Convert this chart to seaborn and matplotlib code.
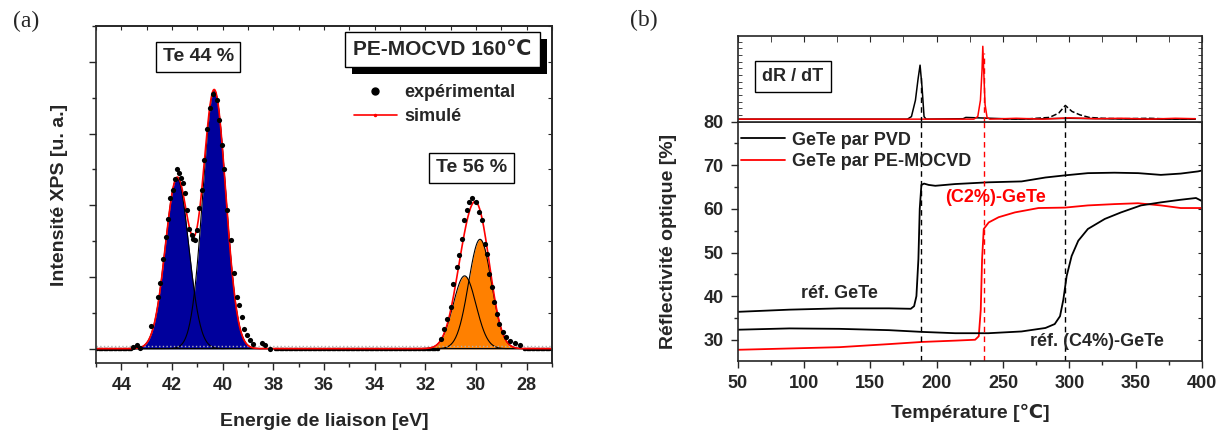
import numpy as np
import matplotlib
matplotlib.use("Agg")
import matplotlib.pyplot as plt
import matplotlib.patheffects as pe
import seaborn as sns
from matplotlib.lines import Line2D
from matplotlib.ticker import MultipleLocator, NullFormatter

# ---------------- données (a) : XPS Te 4d ----------------
# composantes du fit (centre eV, hauteur, largeur sigma)
peak_e = [41.80, 40.33, 30.45, 29.84]
peak_h = [4.75, 7.20, 2.03, 3.05]
peak_w = [0.46, 0.45, 0.45, 0.45]
peak_col = ["#00009c", "#00009c", "#ff8000", "#ff8000"]

exp_e = [43.55, 43.40, 43.25, 42.83, 42.56, 42.47, 42.37, 42.25, 42.14, 42.07, 41.97,
         41.88, 41.81, 41.72, 41.64, 41.55, 41.49, 41.42, 41.33, 41.22, 41.16,
         41.09, 41.03, 40.92, 40.82, 40.74, 40.63, 40.50, 40.37, 40.24, 40.13,
         40.04, 39.95, 39.84, 39.68, 39.55, 39.45, 39.34, 39.25, 39.14, 39.05,
         38.92, 38.79, 38.46, 38.33, 38.13,
         31.38, 31.25, 31.13, 31.00, 30.89, 30.76, 30.66, 30.54, 30.46, 30.37,
         30.26, 30.14, 30.01, 29.88, 29.77, 29.64, 29.58, 29.47, 29.38, 29.27,
         29.18, 29.08, 28.95, 28.83, 28.66, 28.46, 28.26]
exp_i = [0.05, 0.10, 0.02, 0.62, 1.44, 1.82, 2.49, 3.12, 3.62, 4.21, 4.42,
         4.72, 5.01, 4.91, 4.75, 4.61, 4.33, 3.86, 3.35, 3.17, 3.07,
         3.03, 3.30, 3.91, 4.42, 5.25, 6.14, 6.70, 7.10, 6.94, 6.38,
         5.68, 5.00, 3.88, 3.03, 2.10, 1.44, 1.21, 0.88, 0.56, 0.37,
         0.23, 0.14, 0.16, 0.09, 0.00,
         0.28, 0.56, 0.84, 1.16, 1.81, 2.28, 2.61, 3.05, 3.58, 3.86,
         4.10, 4.21, 4.10, 3.82, 3.58, 2.93, 2.65, 2.09, 1.72, 1.30,
         0.98, 0.70, 0.47, 0.33, 0.21, 0.16, 0.09]
# zones de ligne de base (début, fin) en eV
base_zones = [(45.0, 43.6), (38.0, 31.5), (28.1, 27.0)]

# ---------------- données (b) : réflectivité ----------------
pvd_t = [50, 89, 126.75, 164, 180.5, 183, 184.75, 186.25, 187.25, 188.5, 190.5,
         194, 199, 214, 239, 264, 282, 297, 314, 334, 352, 369, 384, 397, 400]
pvd_r = [36.4, 36.9, 37.2, 37.2, 37.1, 37.7, 40.0, 48.5, 60.0, 65.5, 65.8,
         65.5, 65.3, 65.7, 66.1, 66.3, 67.2, 67.7, 68.2, 68.3, 68.2, 67.8, 68.1, 68.6, 68.8]

c4_t = [50, 89, 126.75, 164, 189, 214, 239, 264, 282, 289, 293, 295.5, 298,
        301.75, 306.75, 314, 326.75, 339, 354, 369, 384, 395.5, 400]
c4_r = [32.3, 32.6, 32.5, 32.2, 31.8, 31.5, 31.5, 31.9, 32.7, 33.6, 35.4, 39.2, 44.6,
        49.2, 52.7, 55.4, 57.7, 59.2, 60.8, 61.5, 62.1, 62.5, 61.8]

c2_t = [50, 89, 126.75, 164, 189, 214, 229, 231.75, 233.25, 234.25, 235.5,
        239.25, 246.75, 259, 276.75, 296.75, 314, 334, 351.75, 369, 384, 400]
c2_r = [27.7, 28.0, 28.3, 29.0, 29.5, 29.8, 30.0, 30.8, 36.9, 48.5, 55.4,
        56.9, 58.1, 59.2, 60.2, 60.3, 60.8, 61.1, 61.3, 60.8, 60.2, 60.2]

# dR/dT (unités arbitraires)
d_pvd_t = [50, 120, 178, 181, 184, 186, 187.5, 189, 190.5, 192, 220, 222, 260, 300, 350, 395]
d_pvd_v = [0.03, 0.03, 0.03, 0.06, 0.25, 0.50, 0.66, 0.40, 0.06, 0.03, 0.035, 0.05, 0.03, 0.04, 0.03, 0.03]
d_c2_t = [50, 150, 228, 231, 233, 234.2, 234.8, 235.6, 236.5, 238, 240, 260, 280,
          300, 320, 340, 360, 380, 395]
d_c2_v = [0.03, 0.03, 0.03, 0.06, 0.25, 0.60, 0.88, 0.55, 0.20, 0.05, 0.03, 0.04, 0.03,
          0.045, 0.035, 0.04, 0.03, 0.04, 0.035]
d_c4_t = [250, 270, 285, 292, 297, 302, 308, 315, 325, 340, 360, 380, 395]
d_c4_v = [0.03, 0.035, 0.05, 0.10, 0.19, 0.12, 0.08, 0.05, 0.04, 0.035, 0.04, 0.03, 0.035]
trans_t = [188, 235.5, 297]
trans_top = [0.55, 0.80, 0.19]
trans_col = ["black", "red", "black"]

# ---------------- style ----------------
sns.set_style("ticks")
plt.rcParams["font.family"] = ["Liberation Sans", "DejaVu Sans"]
plt.rcParams["font.weight"] = "bold"
plt.rcParams["axes.labelweight"] = "bold"
plt.rcParams["axes.linewidth"] = 1.2

fig = plt.figure(figsize=(12.28, 4.33), dpi=100)

# ================= (a) =================
ax_a = fig.add_axes([0.0782, 0.1617, 0.3713, 0.7783])
e = np.linspace(27, 45, 901)
total = np.zeros_like(e)
for c, h, w, col in zip(peak_e, peak_h, peak_w, peak_col):
    g = h * np.exp(-(e - c) ** 2 / (2 * w ** 2))
    total += g
    ax_a.fill_between(e, 0, g, color=col, lw=0)
for c, h, w in zip(peak_e, peak_h, peak_w):
    g = h * np.exp(-(e - c) ** 2 / (2 * w ** 2))
    sns.lineplot(x=e, y=g, color="black", lw=0.8, ax=ax_a)

ax_a.axhline(0.06, color="#b0b0b0", lw=1, ls=":")
base_e = np.concatenate([np.arange(b, a, 0.05) for a, b in base_zones])
sns.scatterplot(x=base_e, y=np.zeros_like(base_e), color="black", s=6,
                linewidth=0, ax=ax_a)
sns.lineplot(x=e, y=total, color="red", lw=1.2, ax=ax_a)
sns.scatterplot(x=exp_e, y=exp_i, color="black", s=14, linewidth=0, ax=ax_a, zorder=5)

ax_a.set_xlim(45, 27)
ax_a.set_ylim(-0.4, 9.0)
ax_a.xaxis.set_major_locator(MultipleLocator(2))
ax_a.xaxis.set_minor_locator(MultipleLocator(1))
ax_a.yaxis.set_major_locator(MultipleLocator(2))
ax_a.yaxis.set_minor_locator(MultipleLocator(1))
ax_a.yaxis.set_major_formatter(NullFormatter())
ax_a.tick_params(which="major", direction="out", length=5, width=1, labelsize=13, pad=5)
ax_a.tick_params(which="minor", direction="out", length=3, width=1)
top_a = ax_a.secondary_xaxis("top")
top_a.xaxis.set_major_locator(MultipleLocator(1))
top_a.tick_params(direction="in", labeltop=False, length=3)
right_a = ax_a.secondary_yaxis("right")
right_a.yaxis.set_major_locator(MultipleLocator(1))
right_a.tick_params(direction="in", labelright=False, length=3)
ax_a.set_xlabel("Energie de liaison [eV]", fontsize=14, labelpad=14)
ax_a.set_ylabel("Intensité XPS [u. a.]", fontsize=14, labelpad=10)

box = dict(boxstyle="square,pad=0.35", fc="white", ec="black", lw=1)
ax_a.text(40.97, 8.14, "Te 44 %", fontsize=14, ha="center", va="center", bbox=box)
ax_a.text(30.17, 5.04, "Te 56 %", fontsize=14, ha="center", va="center", bbox=box)
title_box = ax_a.text(31.32, 8.34, "PE-MOCVD 160℃", fontsize=15, ha="center", va="center",
                      bbox=dict(boxstyle="square,pad=0.4", fc="white", ec="black", lw=1))
title_box.get_bbox_patch().set_path_effects(
    [pe.SimplePatchShadow(offset=(5, -5), shadow_rgbFace="black", alpha=1), pe.Normal()])

handles_a = [Line2D([], [], color="black", marker="o", ls="none", markersize=5),
             Line2D([], [], color="red", marker=".", markersize=3, lw=1.2)]
ax_a.legend(handles_a, ["expérimental", "simulé"], loc="upper left",
            bbox_to_anchor=(0.565, 0.828), frameon=False, fontsize=13,
            handlelength=2.4, handletextpad=0.4, borderaxespad=0, borderpad=0,
            labelspacing=0.4)

fig.text(0.021, 0.95, "(a)", fontsize=17, family="Liberation Serif",
         weight="normal", ha="center", va="center")

# ================= (b) =================
ax_b = fig.add_axes([0.6007, 0.1670, 0.3781, 0.5520])
ax_d = fig.add_axes([0.6007, 0.7189, 0.3781, 0.1979], sharex=ax_b)

sns.lineplot(x=pvd_t, y=pvd_r, color="black", lw=1.3, ax=ax_b, label="GeTe par PVD")
sns.lineplot(x=c2_t, y=c2_r, color="red", lw=1.3, ax=ax_b, label="GeTe par PE-MOCVD")
sns.lineplot(x=c4_t, y=c4_r, color="black", lw=1.3, ax=ax_b)
for t, col in zip(trans_t, trans_col):
    ax_b.axvline(t, color=col, lw=1, ls=(0, (4, 3)))

ax_b.set_xlim(50, 400)
ax_b.set_ylim(25.2, 80)
ax_b.xaxis.set_major_locator(MultipleLocator(50))
ax_b.xaxis.set_minor_locator(MultipleLocator(25))
ax_b.yaxis.set_minor_locator(MultipleLocator(5))
ax_b.set_yticks([30, 40, 50, 60, 70, 80])
ax_b.tick_params(which="major", direction="out", length=5, width=1, labelsize=13, pad=5)
ax_b.tick_params(which="minor", direction="out", length=3, width=1)
rb = ax_b.secondary_yaxis("right")
rb.yaxis.set_major_locator(MultipleLocator(5))
rb.tick_params(direction="in", labelright=False, length=3)
ax_b.set_xlabel("Température [℃]", fontsize=14, labelpad=9)
ax_b.set_ylabel("Réflectivité optique [%]", fontsize=14, labelpad=19)
ax_b.legend(loc="upper left", bbox_to_anchor=(0.008, 0.958), frameon=False, fontsize=13,
            handlelength=2.4, handletextpad=0.4, borderaxespad=0, borderpad=0,
            labelspacing=0.25)

ax_b.text(127, 40.6, "réf. GeTe", fontsize=13, ha="center", va="center")
ax_b.text(244, 62.7, "(C2%)-GeTe", fontsize=13, ha="center", va="center", color="red")
ax_b.text(321, 29.6, "réf. (C4%)-GeTe", fontsize=13, ha="center", va="center")

sns.lineplot(x=d_pvd_t, y=d_pvd_v, color="black", lw=1.1, ax=ax_d)
sns.lineplot(x=d_c4_t, y=d_c4_v, color="black", lw=1.1, ls="--", ax=ax_d)
sns.lineplot(x=d_c2_t, y=d_c2_v, color="red", lw=1.1, ax=ax_d)
for t, top, col in zip(trans_t, trans_top, trans_col):
    ax_d.plot([t, t], [0, top], color=col, lw=1, ls=(0, (4, 3)))
ax_d.set_ylim(0, 1)
ax_d.set_yticks([])
ax_d.yaxis.set_minor_locator(MultipleLocator(0.078))
ax_d.tick_params(axis="y", which="minor", direction="in", length=3, left=True, right=True)
ax_d.tick_params(axis="x", which="both", direction="in", bottom=False, top=True,
                 labelbottom=False, length=4)
ax_d.set_ylabel("")
ax_d.text(91.7, 0.53, "dR / dT", fontsize=13, ha="center", va="center",
          bbox=dict(boxstyle="square,pad=0.4", fc="white", ec="black", lw=1))

fig.text(0.524, 0.953, "(b)", fontsize=17, family="Liberation Serif",
         weight="normal", ha="center", va="center")

fig.savefig("out.png", dpi=100)
